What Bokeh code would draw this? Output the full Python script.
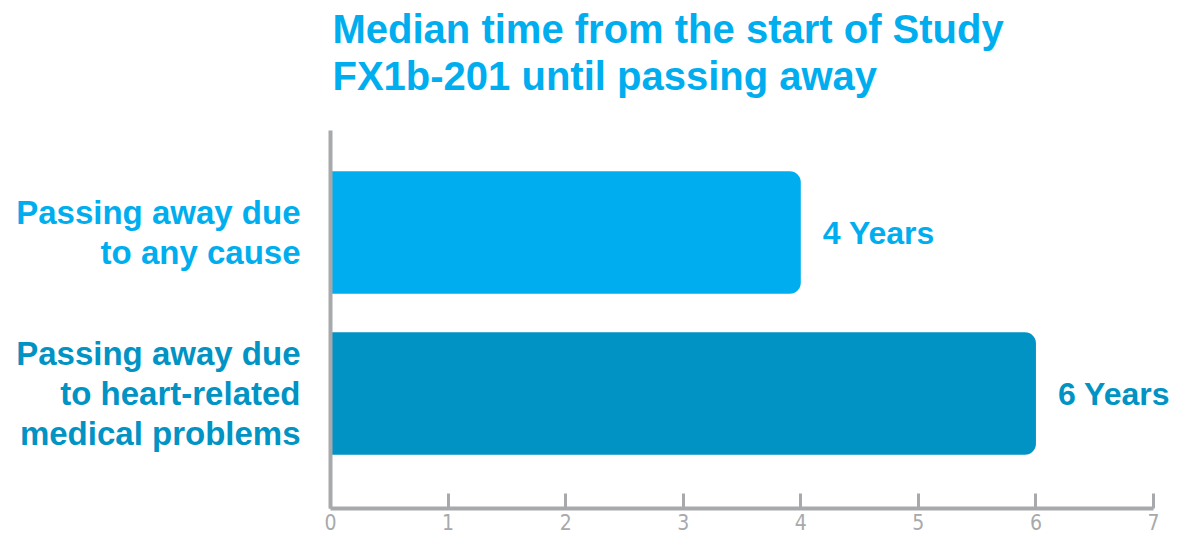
from bokeh.plotting import figure
from bokeh.models import ColumnDataSource, LabelSet, Label, Range1d, FixedTicker, LinearAxis
from bokeh.core.properties import value
from bokeh.embed import file_html
from bokeh.resources import INLINE

# ---- data ----
categories = ["Passing away due\nto any cause",
              "Passing away due\nto heart-related\nmedical problems"]
years = [4, 6]
value_labels = ["4 Years", "6 Years"]
x_ticks = [0, 1, 2, 3, 4, 5, 6, 7]
title_lines = ["Median time from the start of Study", "FX1b-201 until passing away"]

# ---- style ----
bar_colors = ["#00AEEF", "#0093C4"]
gray = "#A7A9AC"
font = "Liberation Sans"
line_gap = 40  # px between label lines

n = len(categories)
ypos = [n - 1 - i for i in range(n)]
src = ColumnDataSource(dict(y=ypos, x=years, lab=value_labels,
                            color=bar_colors, zero=[0] * n))

# one row per text line of each category label
rows = dict(text=[], y=[], yoff=[], color=[], zero=[])
for i, cat in enumerate(categories):
    lines = cat.split("\n")
    m = len(lines)
    for k, ln in enumerate(lines):
        rows["text"].append(ln)
        rows["y"].append(ypos[i])
        rows["yoff"].append(((m - 1) / 2 - k) * line_gap)
        rows["color"].append(bar_colors[i])
        rows["zero"].append(0)
cat_src = ColumnDataSource(rows)

y_axis_at = -0.7143   # level of the value axis
y_top_bound = 1.6335  # top end of the category axis line

p = figure(width=1173, height=540, output_backend="svg", toolbar_location=None,
           x_range=Range1d(-2.8068, 7.170), y_range=Range1d(-0.913, 2.441),
           x_axis_location=None, y_axis_location=None,
           min_border_left=0, min_border_right=0, min_border_top=0,
           min_border_bottom=0)
p.outline_line_color = None
p.xgrid.visible = False
p.ygrid.visible = False
p.background_fill_color = "white"
p.border_fill_color = "white"

p.hbar(y="y", left="zero", right="x", height=0.76, fill_color="color",
       line_color=None, border_radius=(0, 11, 11, 0), source=src)

# x axis fixed at the bottom level
xa = LinearAxis(fixed_location=y_axis_at, ticker=FixedTicker(ticks=x_ticks),
                bounds=(0, 7), axis_line_color=gray, axis_line_width=4,
                major_tick_line_color=gray, major_tick_line_width=3,
                major_tick_in=15, major_tick_out=0, minor_tick_line_color=None,
                major_label_standoff=5, major_label_text_color=gray,
                major_label_text_font="DejaVu Sans Condensed",
                major_label_text_font_size="21px")
p.add_layout(xa, "below")

# y axis (line only) fixed at x = 0
ya = LinearAxis(fixed_location=0, ticker=FixedTicker(ticks=[]),
                bounds=(y_axis_at, y_top_bound), axis_line_color=gray, axis_line_width=4,
                major_tick_line_color=None, minor_tick_line_color=None,
                major_tick_in=0, major_tick_out=0, major_label_standoff=0,
                major_label_text_font_size="0px")
p.add_layout(ya, "left")

# category labels (right aligned, one entry per line)
cat_labels = LabelSet(x="zero", y="y", text="text", source=cat_src, x_offset=-30,
                      y_offset="yoff",
                      text_align="right", text_baseline="middle",
                      text_color="color", text_font=value(font), text_font_style="bold",
                      text_font_size="33px")
p.add_layout(cat_labels)

# value labels
val_labels = LabelSet(x="x", y="y", text="lab", source=src, x_offset=22,
                      text_align="left", text_baseline="middle",
                      text_color="color", text_font=value(font), text_font_style="bold",
                      text_font_size="32px")
p.add_layout(val_labels)

# title (data units so it follows the same scale)
title_y = [2.267, 1.975]
for line, ty in zip(title_lines, title_y):
    p.add_layout(Label(x=0, y=ty, x_units="data", y_units="data",
                       x_offset=2,
                       text=line, text_align="left", text_baseline="alphabetic",
                       text_color=bar_colors[0], text_font=font,
                       text_font_style="bold", text_font_size="40px"))

open("out.html", "w").write(file_html(p, INLINE))
